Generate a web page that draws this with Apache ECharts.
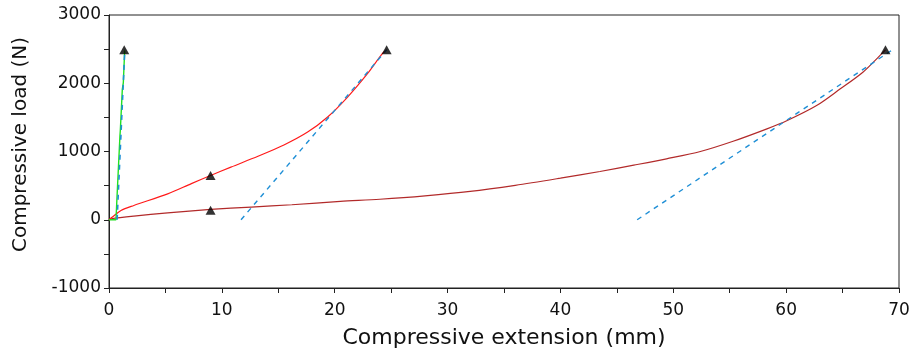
<!DOCTYPE html>
<html><head><meta charset="utf-8">
<script src="https://cdn.jsdelivr.net/npm/echarts@6/dist/echarts.min.js"></script>
<style>html,body{margin:0;padding:0;background:#fff}#c{width:914px;height:349px}</style>
</head><body><div id="c"></div>
<script>
// Specimen A (steep, green)
const aX = [0, 0.62, 0.68, 0.70, 0.97, 1.00, 1.18, 1.27, 1.39];
const aY = [0, 0, 10, 300, 1230, 1300, 1910, 2010, 2480];
// Specimen B (red)
const bX = [0, 0.3, 1.06, 2.2, 5.2, 7.3, 9.0, 10.8, 13.2, 15.5, 17.6, 19.4, 21.1, 22.9, 24.2, 24.6];
const bY = [0, 40, 136, 209, 380, 530, 648, 771, 930, 1095, 1284, 1510, 1790, 2140, 2430, 2490];
// Specimen C (dark red)
const cX = [0, 0.2, 2.2, 5.2, 9.0, 12.6, 16.2, 20.5, 24.0, 28.0, 32.0, 36.0, 40.0, 43.5, 46.5, 49.4, 52.4, 55.3, 58.3, 60.1, 62.7, 64.8, 66.8, 68.3, 68.8];
const cY = [0, 15, 54, 102, 151, 186, 220, 268, 300, 350, 415, 505, 610, 707, 800, 893, 1000, 1150, 1332, 1454, 1673, 1918, 2162, 2405, 2490];
// Tangent (modulus) lines
const t1X = [0.72, 1.40], t1Y = [0, 2490];
const t2X = [11.7, 24.6], t2Y = [0, 2490];
const t3X = [46.8, 69.6], t3Y = [0, 2510];
// Triangle markers
const mkX = [1.35, 24.6, 68.8, 9.0, 9.0];
const mkY = [2490, 2490, 2490, 650, 140];

const zip = (xs, ys) => xs.map((x, i) => [x, ys[i]]);
const font = 'DejaVu Sans';
const line = (xs, ys, color, w, dashed, smooth) => ({
  type: 'line', data: zip(xs, ys), showSymbol: false, symbol: 'none', animation: false,
  smooth: smooth ? 0.3 : false,
  lineStyle: { color: color, width: w, type: dashed ? [5, 5] : 'solid' }, z: dashed ? 3 : 2
});
const chart = echarts.init(document.getElementById('c'), null, { renderer: 'canvas' });
chart.setOption({
  animation: false,
  grid: { left: 109, right: 15, top: 15, bottom: 61, containLabel: false, outerBoundsMode: 'none',
    show: true, borderColor: '#222', borderWidth: 1, backgroundColor: 'transparent' },
  xAxis: {
    type: 'value', min: 0, max: 70, interval: 10,
    name: 'Compressive extension (mm)', nameLocation: 'middle', nameGap: 39,
    nameTextStyle: { fontFamily: font, fontSize: 22, color: '#111' },
    axisLine: { show: true, onZero: false, lineStyle: { color: '#222', width: 1 } },
    axisTick: { show: true, inside: false, length: 5, lineStyle: { color: '#222' } },
    minorTick: { show: true, splitNumber: 2, length: 5, lineStyle: { color: '#222' } },
    splitLine: { show: false },
    axisLabel: { fontFamily: font, fontSize: 17, color: '#111', margin: 14 }
  },
  yAxis: {
    type: 'value', min: -1000, max: 3000, interval: 1000,
    name: 'Compressive load (N)', nameLocation: 'middle', nameGap: 78, nameRotate: 90,
    nameTextStyle: { fontFamily: font, fontSize: 20, color: '#111', padding: [0, 0, 0, 14] },
    axisLine: { show: true, onZero: false, lineStyle: { color: '#222', width: 1 } },
    axisTick: { show: true, inside: false, length: 5, lineStyle: { color: '#222' } },
    minorTick: { show: true, splitNumber: 2, length: 5, lineStyle: { color: '#222' } },
    splitLine: { show: false },
    axisLabel: { fontFamily: font, fontSize: 17, color: '#111', margin: 8, formatter: v => String(v) }
  },
  series: [
    line(cX, cY, '#b22a2a', 1.2, false, true),
    line(bX, bY, '#ff1a1a', 1.2, false, true),
    line(aX, aY, '#22e022', 1.4, false, false),
    line(t1X, t1Y, '#1f8fd6', 1.6, true, false),
    line(t2X, t2Y, '#1f8fd6', 1.4, true, false),
    line(t3X, t3Y, '#1f8fd6', 1.4, true, false),
    { type: 'scatter', data: zip(mkX, mkY), symbol: 'triangle', symbolSize: [10, 9],
      itemStyle: { color: '#000' }, z: 5, animation: false }
  ]
});
</script></body></html>
